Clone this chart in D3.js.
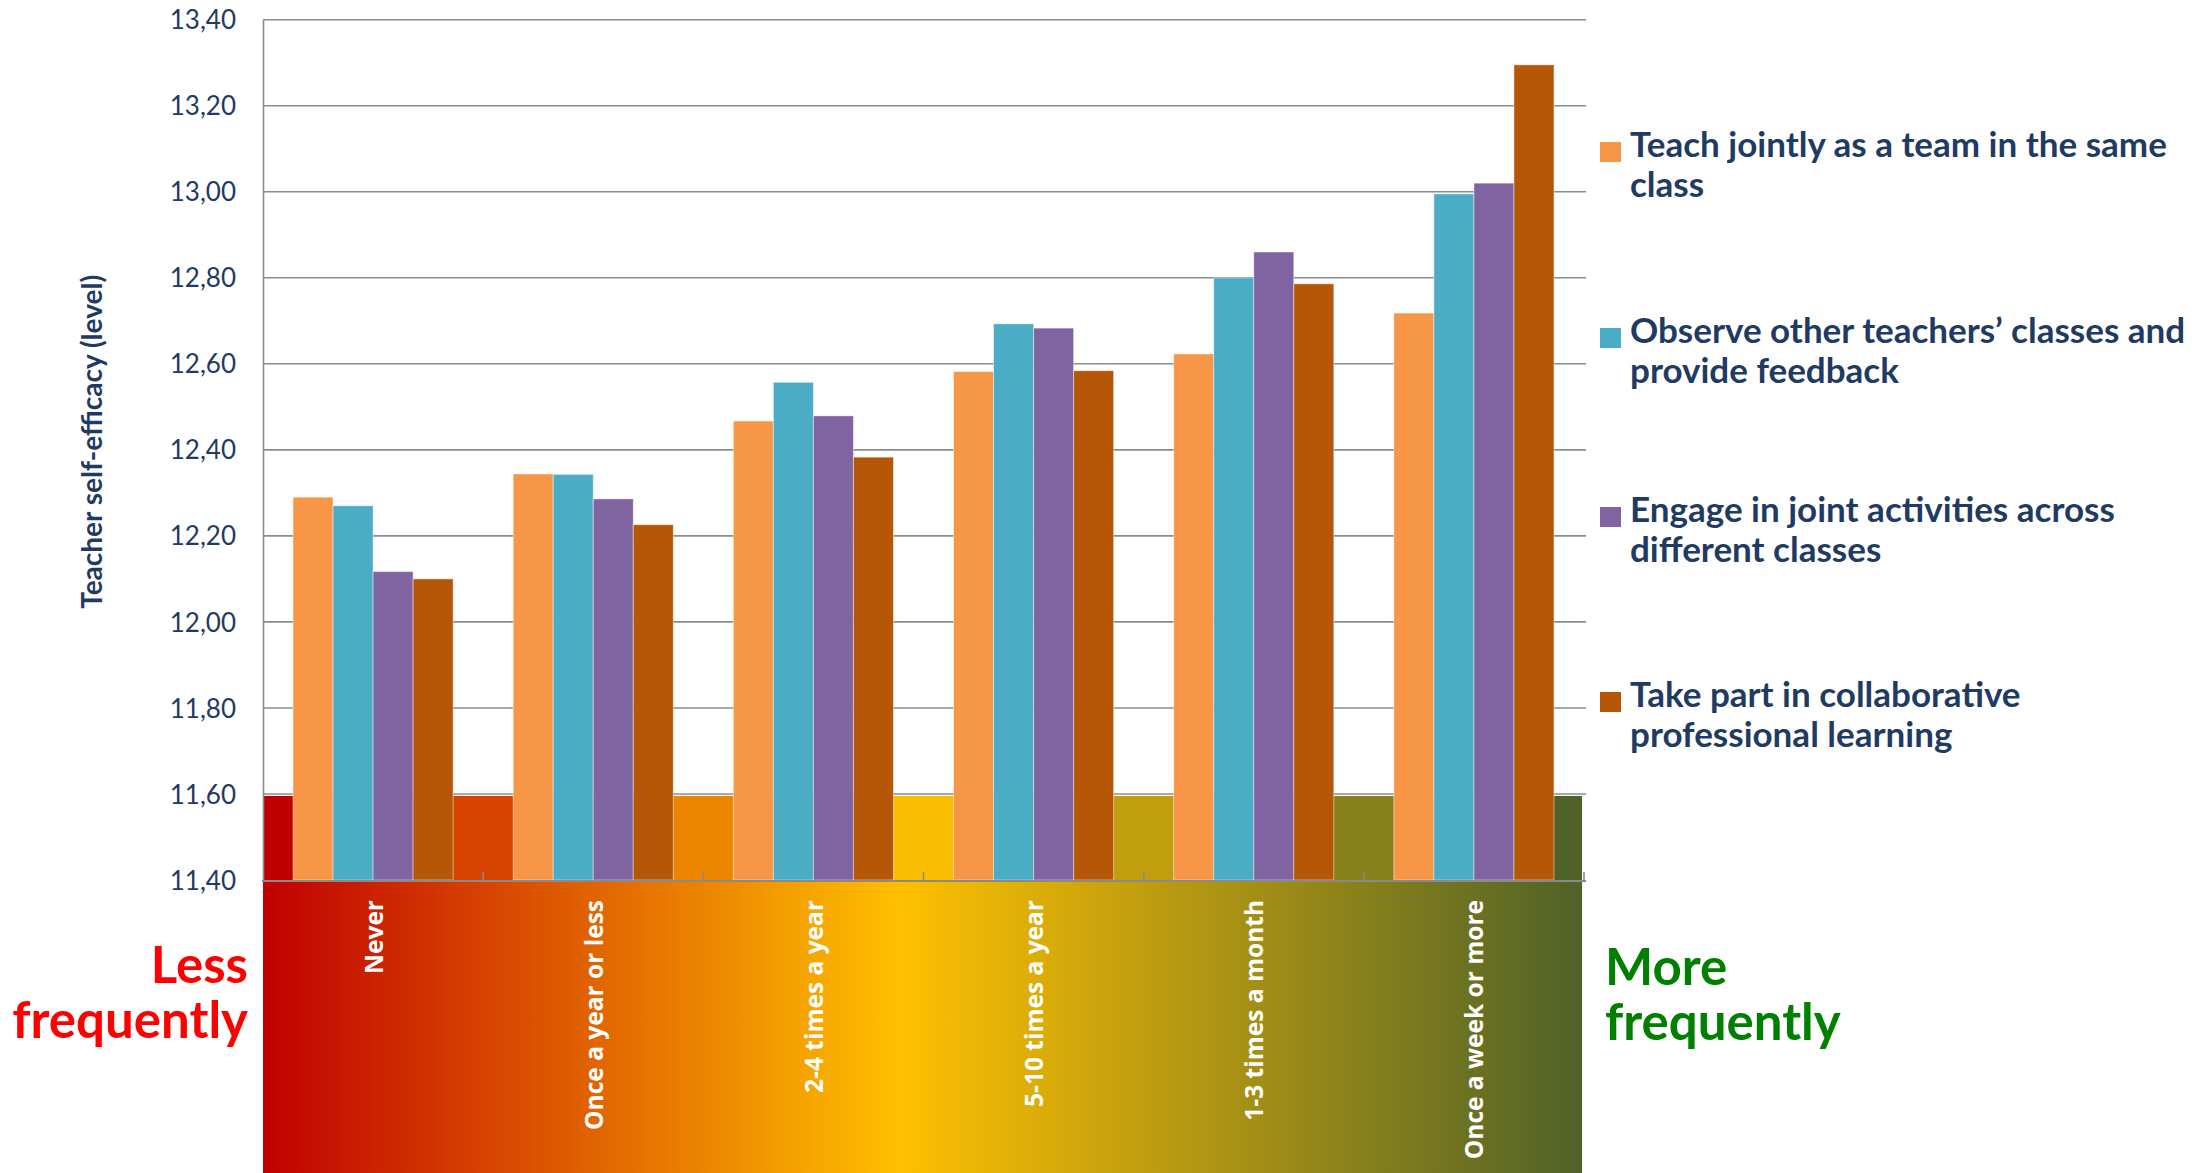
<!DOCTYPE html>
<html>
<head>
<meta charset="utf-8">
<script src="https://cdn.jsdelivr.net/npm/d3@7"></script>
<style>
  html, body { margin: 0; padding: 0; background: #ffffff; }
  svg { display: block; }
</style>
</head>
<body>
<svg id="chart" width="2206" height="1173"></svg>
<script>
// ---------- Data ----------
const categories = ["Never", "Once a year or less", "2-4 times a year", "5-10 times a year", "1-3 times a month", "Once a week or more"];
const seriesNames = [
  "Teach jointly as a team in the same class",
  "Observe other teachers\u2019 classes and provide feedback",
  "Engage in joint activities across different classes",
  "Take part in collaborative professional learning"
];
const legendLines = [
  ["Teach jointly as a team in the same", "class"],
  ["Observe other teachers\u2019 classes and", "provide feedback"],
  ["Engage in joint activities across", "different classes"],
  ["Take part in collaborative", "professional learning"]
];
const teachJointly          = [12.29, 12.344, 12.467, 12.582, 12.623, 12.718];
const observeClasses        = [12.27, 12.343, 12.557, 12.693, 12.80, 12.995];
const jointActivities       = [12.117, 12.286, 12.479, 12.683, 12.86, 13.02];
const collaborativeLearning = [12.10, 12.226, 12.383, 12.584, 12.786, 13.295];
const yTicks = [11.4, 11.6, 11.8, 12.0, 12.2, 12.4, 12.6, 12.8, 13.0, 13.2, 13.4];
const seriesColors = ["#F79646", "#4BACC6", "#8064A2", "#B65708"];
const yAxisTitle = "Teacher self-efficacy (level)";

const seriesValues = [teachJointly, observeClasses, jointActivities, collaborativeLearning];

// ---------- Layout ----------
const W = 2206, H = 1173;
const plot = { left: 263, right: 1584, top: 19.7, bottom: 880 };
const navy = "#1f3b63";
const gridColor = "#8c8c8c";

const svg = d3.select("#chart");

const y = d3.scaleLinear().domain([11.4, 13.4]).range([plot.bottom, plot.top]);
const x0 = d3.scaleBand().domain(categories).range([plot.left, plot.right]).padding(0);
const barW = x0.bandwidth() / (seriesNames.length + 1.5);
const gap = x0.bandwidth() - barW * seriesNames.length;
const x1 = d3.scaleBand().domain(d3.range(seriesNames.length))
  .range([gap / 2, x0.bandwidth() - gap / 2]).padding(0);

// gradient colour as a function of x
const gradColor = d3.scaleLinear()
  .domain([plot.left, plot.left + 0.482 * (plot.right - plot.left), plot.right])
  .range(["#C00000", "#FFC000", "#4F6228"])
  .interpolate(d3.interpolateRgb);

// ---------- Gradient below the axis ----------
const defs = svg.append("defs");
const lg = defs.append("linearGradient").attr("id", "freqGrad")
  .attr("x1", "0%").attr("x2", "100%").attr("y1", "0%").attr("y2", "0%");
lg.append("stop").attr("offset", "0%").attr("stop-color", "#C00000");
lg.append("stop").attr("offset", "48.2%").attr("stop-color", "#FFC000");
lg.append("stop").attr("offset", "100%").attr("stop-color", "#4F6228");

svg.append("rect")
  .attr("x", plot.left).attr("y", plot.bottom)
  .attr("width", plot.right - 2 - plot.left).attr("height", H - plot.bottom)
  .attr("fill", "url(#freqGrad)");

// ---------- Stepped band between 11.40 and 11.60 ----------
const bandTop = y(11.6) + 2;
const segs = [];
segs.push({ x: plot.left, w: gap / 2, c: gradColor(plot.left) });
categories.forEach((c, i) => {
  if (i > 0) {
    const bx = x0(c);
    segs.push({ x: bx - gap / 2, w: gap, c: gradColor(bx) });
  }
});
segs.push({ x: plot.right - gap / 2, w: gap / 2 - 2, c: gradColor(plot.right) });
svg.append("g").selectAll("rect").data(segs).join("rect")
  .attr("x", d => d.x).attr("y", bandTop)
  .attr("width", d => d.w).attr("height", plot.bottom - bandTop)
  .attr("fill", d => d.c);
svg.append("g").selectAll("rect").data(categories).join("rect")
  .attr("x", d => x0(d) + gap / 2).attr("y", bandTop)
  .attr("width", x0.bandwidth() - gap).attr("height", plot.bottom - bandTop)
  .attr("fill", d => gradColor(x0(d) + x0.bandwidth() / 2));

// ---------- Gridlines ----------
svg.append("g").selectAll("line").data(yTicks.filter(t => t > 11.4)).join("line")
  .attr("x1", plot.left).attr("x2", plot.right + 2)
  .attr("y1", d => y(d)).attr("y2", d => y(d))
  .attr("stroke", gridColor).attr("stroke-width", 1.6);

// ---------- Bars ----------
const groups = svg.append("g").selectAll("g").data(categories).join("g")
  .attr("transform", d => `translate(${x0(d)},0)`);
groups.selectAll("rect")
  .data((c, ci) => seriesValues.map((vals, si) => ({ si, v: vals[ci] })))
  .join("rect")
  .attr("x", d => x1(d.si))
  .attr("y", d => y(d.v))
  .attr("width", x1.bandwidth())
  .attr("height", d => y(11.4) - y(d.v))
  .attr("fill", d => seriesColors[d.si])
  .attr("stroke", "rgba(255,255,255,0.45)")
  .attr("stroke-width", 1);

// ---------- Axes ----------
const fmt = v => d3.format(".2f")(v).replace(".", ",");
const yAxis = svg.append("g").attr("transform", `translate(${plot.left},0)`)
  .call(d3.axisLeft(y).tickValues(yTicks).tickFormat(fmt).tickSize(0).tickPadding(27));
yAxis.select(".domain").attr("stroke", "#8a8a8a").attr("stroke-width", 1.6);
yAxis.selectAll("text")
  .attr("font-family", "Lato, 'Open Sans', sans-serif")
  .attr("font-size", 26)
  .attr("fill", navy)
  .attr("dy", "0.35em");

// bottom axis line with inward ticks at category boundaries
const bottom = svg.append("g");
bottom.append("line")
  .attr("x1", plot.left - 1).attr("x2", plot.right + 2)
  .attr("y1", plot.bottom + 1).attr("y2", plot.bottom + 1)
  .attr("stroke", "#8a8a8a").attr("stroke-width", 2);
const boundaries = categories.slice(1).map(c => x0(c)).concat([plot.right]);
bottom.selectAll("line.tick").data(boundaries).join("line")
  .attr("class", "tick")
  .attr("x1", d => d).attr("x2", d => d)
  .attr("y1", plot.bottom + 1).attr("y2", plot.bottom - 8)
  .attr("stroke", "#8a8a8a").attr("stroke-width", 1.6);

// category labels (rotated, white)
svg.append("g").selectAll("text").data(categories).join("text")
  .attr("transform", d => `translate(${x0(d) + x0.bandwidth() / 2},900) rotate(-90)`)
  .attr("text-anchor", "end")
  .attr("dominant-baseline", "central")
  .attr("font-family", "'Open Sans', sans-serif")
  .attr("font-weight", 700)
  .attr("font-size", 24.5)
  .attr("fill", "#ffffff")
  .text(d => d);

// y-axis title
svg.append("text")
  .attr("transform", `translate(91,${(plot.top + plot.bottom) / 2 - 8}) rotate(-90)`)
  .attr("text-anchor", "middle")
  .attr("dominant-baseline", "central")
  .attr("font-family", "Lato, sans-serif")
  .attr("font-weight", 700)
  .attr("font-size", 28)
  .attr("fill", navy)
  .text(yAxisTitle);

// ---------- Legend ----------
const legendBaselines = [157, 343, 522, 707];
const lgG = svg.append("g").selectAll("g").data(seriesNames).join("g");
lgG.append("rect")
  .attr("x", 1600).attr("y", (d, i) => legendBaselines[i] - 15)
  .attr("width", 21).attr("height", 20)
  .attr("fill", (d, i) => seriesColors[i]);
lgG.each(function (d, i) {
  const t = d3.select(this).append("text")
    .attr("font-family", "Lato, sans-serif")
    .attr("font-weight", 700)
    .attr("font-size", 35)
    .attr("fill", navy);
  legendLines[i].forEach((line, li) => {
    t.append("tspan").attr("x", 1630).attr("y", legendBaselines[i] + li * 39.5).text(line);
  });
});

// ---------- Less / More frequently ----------
const lessT = svg.append("text")
  .attr("text-anchor", "end")
  .attr("font-family", "Lato, sans-serif").attr("font-weight", 700)
  .attr("font-size", 51).attr("fill", "#FF0000");
lessT.append("tspan").attr("x", 248).attr("y", 983).text("Less");
lessT.append("tspan").attr("x", 248).attr("y", 1038).text("frequently");

const moreT = svg.append("text")
  .attr("text-anchor", "start")
  .attr("font-family", "Lato, sans-serif").attr("font-weight", 700)
  .attr("font-size", 51).attr("fill", "#008000");
moreT.append("tspan").attr("x", 1605).attr("y", 985).text("More");
moreT.append("tspan").attr("x", 1605).attr("y", 1040).text("frequently");
</script>
</body>
</html>
